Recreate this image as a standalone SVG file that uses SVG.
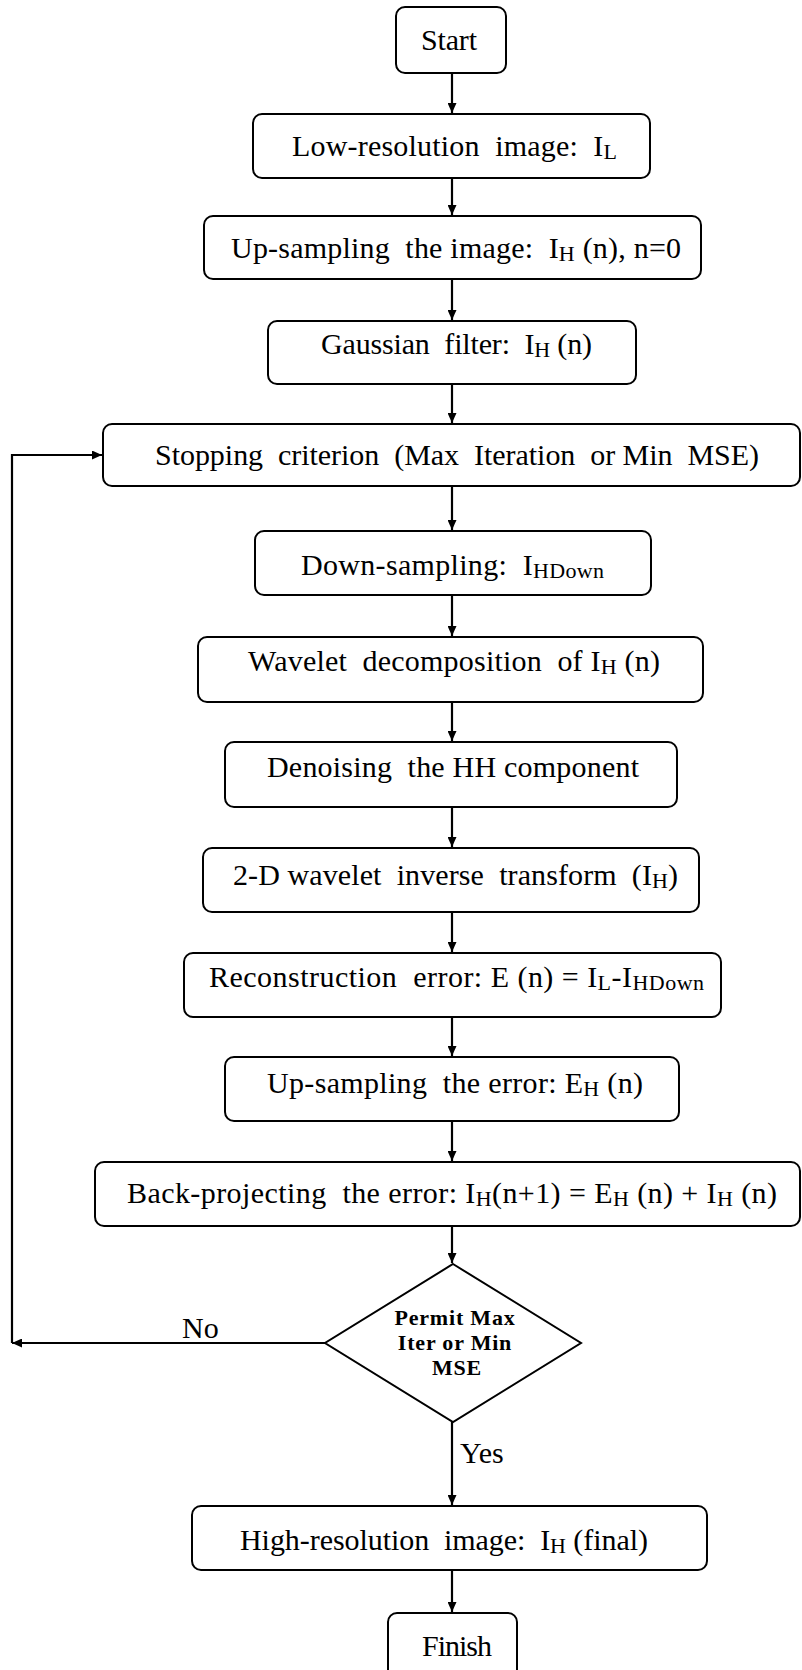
<svg xmlns="http://www.w3.org/2000/svg" width="802" height="1670" viewBox="0 0 802 1670">
  <style>
    .box { fill: #ffffff; stroke: #000000; stroke-width: 2; }
    .lbl { font-family: "Liberation Serif", "Times New Roman", serif; font-size: 30px; fill: #000000; }
    .sub { font-size: 22px; }
    .dec { font-family: "Liberation Serif", "Times New Roman", serif; font-size: 22px; font-weight: bold; letter-spacing: 0.8px; fill: #000000; text-anchor: middle; }
    .edge { fill: none; stroke: #000000; stroke-width: 2.2; }
  </style>
  <defs>
    <marker id="arrow" markerUnits="userSpaceOnUse" markerWidth="11" markerHeight="9" refX="10" refY="4.5" orient="auto">
      <path d="M0,0 L10,4.5 L0,9 z" fill="#000000"/>
    </marker>
  </defs>

  <rect width="802" height="1670" fill="#ffffff"/>

  <!-- flow connectors -->
  <g id="connectors">
    <line class="edge" x1="452" y1="73" x2="452" y2="113" marker-end="url(#arrow)"/>
    <line class="edge" x1="452" y1="178" x2="452" y2="215" marker-end="url(#arrow)"/>
    <line class="edge" x1="452" y1="279" x2="452" y2="320" marker-end="url(#arrow)"/>
    <line class="edge" x1="452" y1="384" x2="452" y2="423" marker-end="url(#arrow)"/>
    <line class="edge" x1="452" y1="486" x2="452" y2="530" marker-end="url(#arrow)"/>
    <line class="edge" x1="452" y1="595" x2="452" y2="636" marker-end="url(#arrow)"/>
    <line class="edge" x1="452" y1="702" x2="452" y2="741" marker-end="url(#arrow)"/>
    <line class="edge" x1="452" y1="807" x2="452" y2="847" marker-end="url(#arrow)"/>
    <line class="edge" x1="452" y1="912" x2="452" y2="952" marker-end="url(#arrow)"/>
    <line class="edge" x1="452" y1="1017" x2="452" y2="1056" marker-end="url(#arrow)"/>
    <line class="edge" x1="452" y1="1121" x2="452" y2="1161" marker-end="url(#arrow)"/>
    <line class="edge" x1="452" y1="1226" x2="452" y2="1263" marker-end="url(#arrow)"/>
    <line class="edge" x1="452" y1="1422" x2="452" y2="1505" marker-end="url(#arrow)"/>
    <line class="edge" x1="452" y1="1570" x2="452" y2="1612" marker-end="url(#arrow)"/>
    <!-- "No" branch and loop back to the stopping test -->
    <line class="edge" x1="325" y1="1343" x2="12" y2="1343" marker-end="url(#arrow)"/>
    <polyline class="edge" points="12,1343 12,455 102,455" marker-end="url(#arrow)"/>
    <text class="lbl" x="182" y="1338">No</text>
    <text class="lbl" x="460" y="1463">Yes</text>
  </g>

  <g id="start">
    <rect class="box" x="396" y="7" width="110" height="66" rx="9"/>
    <text class="lbl" x="421" y="50" textLength="56" lengthAdjust="spacing">Start</text>
  </g>

  <g id="low-res">
    <rect class="box" x="253" y="114" width="397" height="64" rx="9"/>
    <text class="lbl" x="292" y="156" textLength="325" lengthAdjust="spacing" xml:space="preserve">Low-resolution  image:  I<tspan class="sub" dy="2.5">L</tspan></text>
  </g>

  <g id="upsample-image">
    <rect class="box" x="204" y="216" width="497" height="63" rx="9"/>
    <text class="lbl" x="231" y="258" textLength="450" lengthAdjust="spacing" xml:space="preserve">Up-sampling  the image:  I<tspan class="sub" dy="2.5">H</tspan><tspan dy="-2.5"> (n), n=0</tspan></text>
  </g>

  <g id="gaussian">
    <rect class="box" x="268" y="321" width="368" height="63" rx="9"/>
    <text class="lbl" x="321" y="354" textLength="271" lengthAdjust="spacing" xml:space="preserve">Gaussian  filter:  I<tspan class="sub" dy="2.5">H</tspan><tspan dy="-2.5"> (n)</tspan></text>
  </g>

  <g id="stopping">
    <rect class="box" x="103" y="424" width="697" height="62" rx="9"/>
    <text class="lbl" x="155" y="465" textLength="604" lengthAdjust="spacing" xml:space="preserve">Stopping  criterion  (Max  Iteration  or Min  MSE)</text>
  </g>

  <g id="downsample">
    <rect class="box" x="255" y="531" width="396" height="64" rx="9"/>
    <text class="lbl" x="301" y="575" textLength="303" lengthAdjust="spacing" xml:space="preserve">Down-sampling:  I<tspan class="sub" dy="2.5">HDown</tspan></text>
  </g>

  <g id="wavelet-decomp">
    <rect class="box" x="198" y="637" width="505" height="65" rx="9"/>
    <text class="lbl" x="248" y="671" textLength="412" lengthAdjust="spacing" xml:space="preserve">Wavelet  decomposition  of I<tspan class="sub" dy="2.5">H</tspan><tspan dy="-2.5"> (n)</tspan></text>
  </g>

  <g id="denoise">
    <rect class="box" x="225" y="742" width="452" height="65" rx="9"/>
    <text class="lbl" x="267" y="777" textLength="372" lengthAdjust="spacing" xml:space="preserve">Denoising  the HH component</text>
  </g>

  <g id="inverse-transform">
    <rect class="box" x="203" y="848" width="496" height="64" rx="9"/>
    <text class="lbl" x="233" y="885" textLength="445" lengthAdjust="spacing" xml:space="preserve">2-D wavelet  inverse  transform  (I<tspan class="sub" dy="2.5">H</tspan><tspan dy="-2.5">)</tspan></text>
  </g>

  <g id="reconstruction-error">
    <rect class="box" x="184" y="953" width="537" height="64" rx="9"/>
    <text class="lbl" x="209" y="987" textLength="495" lengthAdjust="spacing" xml:space="preserve">Reconstruction  error: E (n) = I<tspan class="sub" dy="2.5">L</tspan><tspan dy="-2.5">-I</tspan><tspan class="sub" dy="2.5">HDown</tspan></text>
  </g>

  <g id="upsample-error">
    <rect class="box" x="225" y="1057" width="454" height="64" rx="9"/>
    <text class="lbl" x="267" y="1093" textLength="376" lengthAdjust="spacing" xml:space="preserve">Up-sampling  the error: E<tspan class="sub" dy="2.5">H</tspan><tspan dy="-2.5"> (n)</tspan></text>
  </g>

  <g id="back-project">
    <rect class="box" x="95" y="1162" width="705" height="64" rx="9"/>
    <text class="lbl" x="127" y="1203" textLength="650" lengthAdjust="spacing" xml:space="preserve">Back-projecting  the error: I<tspan class="sub" dy="2.5">H</tspan><tspan dy="-2.5">(n+1) = E</tspan><tspan class="sub" dy="2.5">H</tspan><tspan dy="-2.5"> (n) + I</tspan><tspan class="sub" dy="2.5">H</tspan><tspan dy="-2.5"> (n)</tspan></text>
  </g>

  <g id="decision">
    <polygon class="box" points="453,1264 581,1343 453,1422 325,1343"/>
    <text class="dec" x="455" y="1325">Permit Max</text>
    <text class="dec" x="455" y="1350">Iter or Min</text>
    <text class="dec" x="457" y="1375">MSE</text>
  </g>

  <g id="high-res">
    <rect class="box" x="192" y="1506" width="515" height="64" rx="9"/>
    <text class="lbl" x="240" y="1550" textLength="408" lengthAdjust="spacing" xml:space="preserve">High-resolution  image:  I<tspan class="sub" dy="2.5">H</tspan><tspan dy="-2.5"> (final)</tspan></text>
  </g>

  <g id="finish">
    <rect class="box" x="388" y="1613" width="129" height="80" rx="9"/>
    <text class="lbl" x="422" y="1656" textLength="70" lengthAdjust="spacing">Finish</text>
  </g>
</svg>
